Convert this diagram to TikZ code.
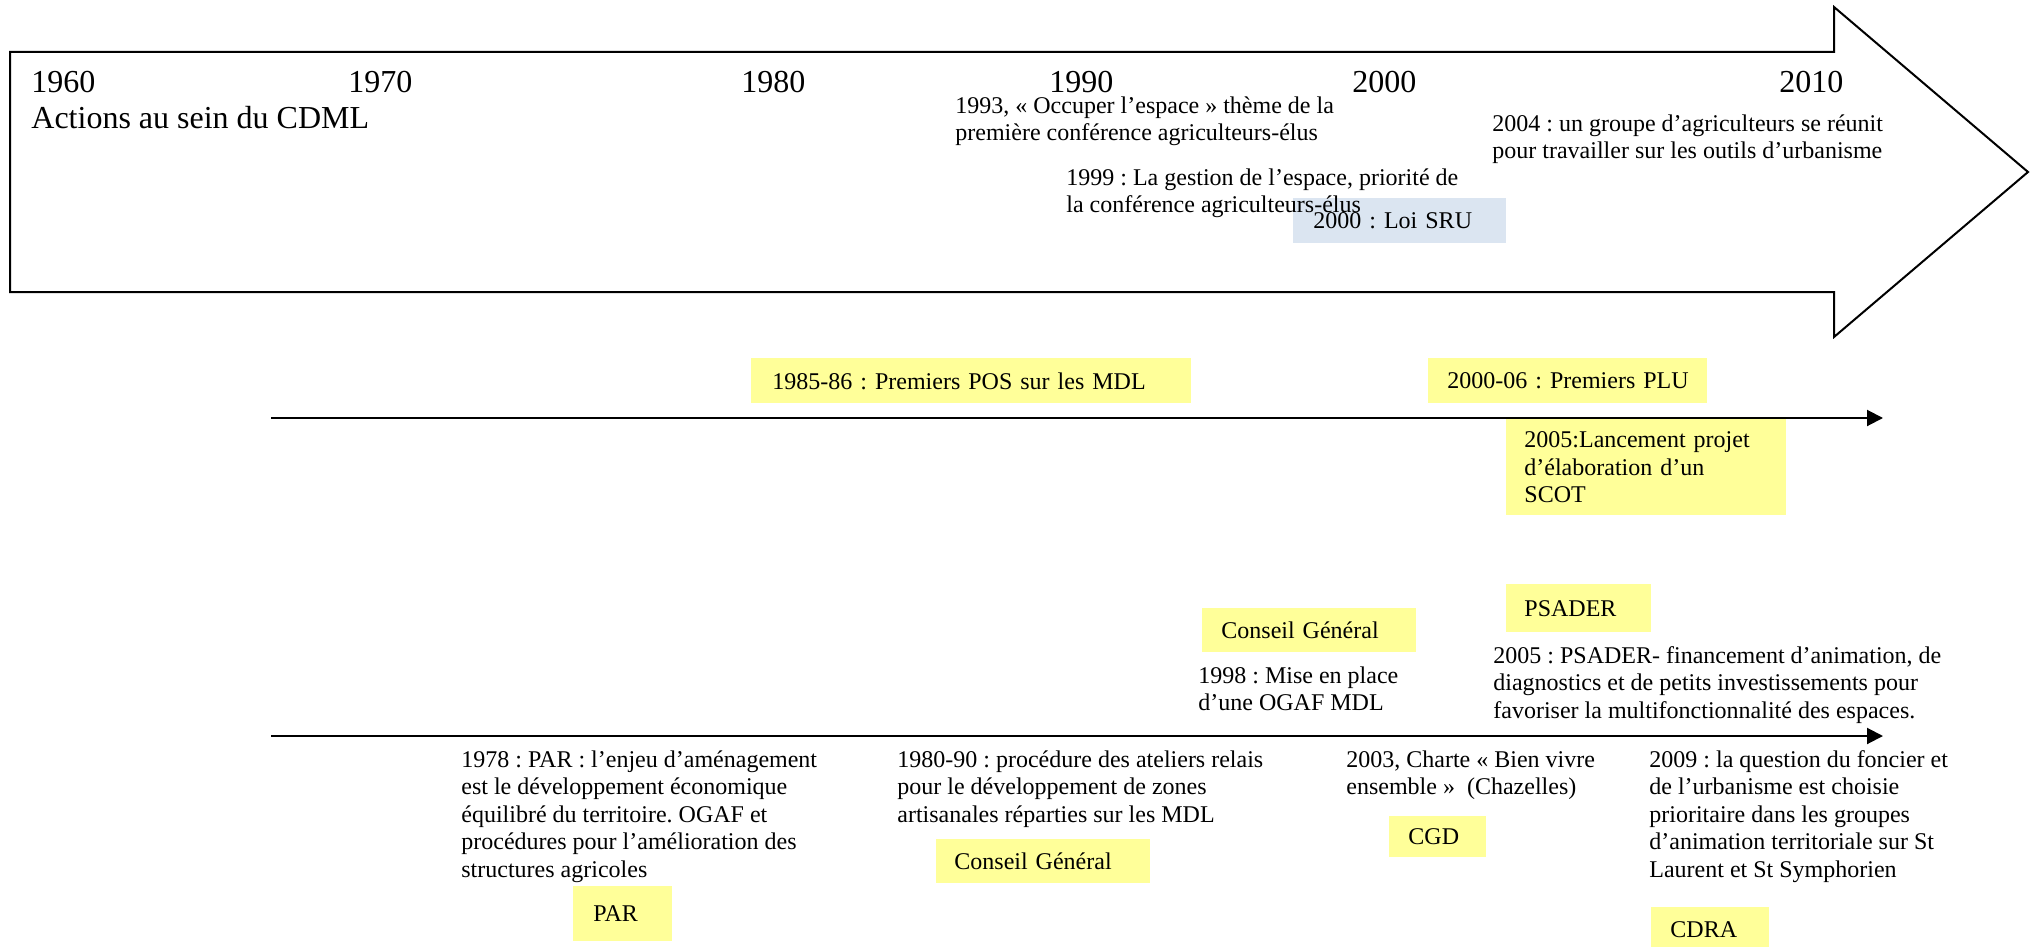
\documentclass[tikz,border=0pt]{standalone}
\usepackage{fontspec}
\setmainfont{Liberation Serif}
\usetikzlibrary{arrows.meta}
\definecolor{notefill}{HTML}{FFFF99}
\definecolor{lawfill}{HTML}{DBE5F1}
\newcommand{\yearfont}{\fontsize{16pt}{18.4pt}\selectfont}
\newcommand{\notefont}{\fontsize{12pt}{13.8pt}\selectfont\frenchspacing}

\begin{document}
\begin{tikzpicture}[x=0.5pt,y=-0.5pt,
  year/.style={anchor=base west,inner sep=0pt,font=\yearfont},
  note/.style={anchor=base west,inner sep=0pt,align=left,font=\notefont},
  notebox/.style={anchor=north west,fill=notefill,inner ysep=0pt,align=left,font=\notefont},
  timeline/.style={line width=1pt,-{Triangle[length=8pt,width=8pt]}}]
  \useasboundingbox (0,0) rectangle (2035,947);
  \draw[line width=1pt] (10,52) -- (1834,52) -- (1834,7) -- (2028,172) -- (1834,337) -- (1834,292) -- (10,292) -- cycle;
  \node[year] (y1960) at (31,93) {1960};
  \node[year] (y1970) at (348,93) {1970};
  \node[year] (y1980) at (741,93) {1980};
  \node[year] (y1990) at (1049,93) {1990};
  \node[year] (y2000) at (1352,93) {2000};
  \node[year] (y2010) at (1779,93) {2010};
  \node[year] (cdml) at (31,128) {Actions au sein du CDML};
  \node[notebox,fill=lawfill,inner xsep=10pt,text width=86.5pt,minimum height=22.5pt] (sru) at (1293,198) {2000 : Loi SRU};
  % base = last line
  \node[note] (occuper) at (955,140.6) {1993, « Occuper l’espace » thème de la\\première conférence agriculteurs-élus};
  \node[note] (gestion) at (1066,212.6) {1999 : La gestion de l’espace, priorité de\\la conférence agriculteurs-élus};
  \node[note] (groupe) at (1492,158.6) {2004 : un groupe d’agriculteurs se réunit\\pour travailler sur les outils d’urbanisme};
  \node[notebox,inner xsep=10.5pt,text width=199pt,minimum height=22.5pt] (pos) at (751,358) {1985-86 : Premiers POS sur les MDL};
  \node[notebox,inner xsep=9.5pt,text width=120.5pt,minimum height=22.5pt] (plu) at (1428,358) {\mbox{2000-06 : Premiers PLU}};
  \node[notebox,inner xsep=9pt,text width=122pt,minimum height=48pt] (scot) at (1506,419) {2005:Lancement projet\\d’élaboration d’un\\SCOT};
  \node[notebox,inner xsep=9.5pt,text width=88pt,minimum height=22pt] (cgtop) at (1202,608) {Conseil Général};
  \node[notebox,inner xsep=9pt,text width=54.5pt,minimum height=24pt] (psader) at (1506,584) {PSADER};
  \node[notebox,inner xsep=9pt,text width=89pt,minimum height=22pt] (cglow) at (936,839) {Conseil Général};
  \node[notebox,inner xsep=10pt,text width=29.5pt,minimum height=27.5pt] (par) at (573,886) {PAR};
  \node[notebox,inner xsep=9.5pt,text width=29.5pt,minimum height=20.5pt] (cgd) at (1389,816) {CGD};
  \node[notebox,inner xsep=9.5pt,text width=40pt,minimum height=22pt] (cdra) at (1651,907) {CDRA};
  \node[note] (ogaf) at (1198,710.6) {1998 : Mise en place\\d’une OGAF MDL};
  \node[note] (psadertxt) at (1493,718.2) {2005 : PSADER- financement d’animation, de\\diagnostics et de petits investissements pour\\favoriser la multifonctionnalité des espaces.};
  \node[note] (par78) at (461,877.4) {1978 : PAR : l’enjeu d’aménagement\\est le développement économique\\équilibré du territoire. OGAF et\\procédures pour l’amélioration des\\structures agricoles};
  \node[note] (ateliers) at (897,822.2) {1980-90 : procédure des ateliers relais\\pour le développement de zones\\artisanales réparties sur les MDL};
  \node[note] (charte) at (1346,794.6) {2003, Charte « Bien vivre\\ensemble »\ \ (Chazelles)};
  \node[note] (foncier) at (1649,877.4) {2009 : la question du foncier et\\de l’urbanisme est choisie\\prioritaire dans les groupes\\d’animation territoriale sur St\\Laurent et St Symphorien};
  \coordinate (midstart) at (271,418);
  \coordinate (midend) at (1883,418);
  \coordinate (lowstart) at (271,736);
  \coordinate (lowend) at (1883,736);
  \draw[timeline] (midstart) -- (midend);
  \draw[timeline] (lowstart) -- (lowend);
\end{tikzpicture}
\end{document}
